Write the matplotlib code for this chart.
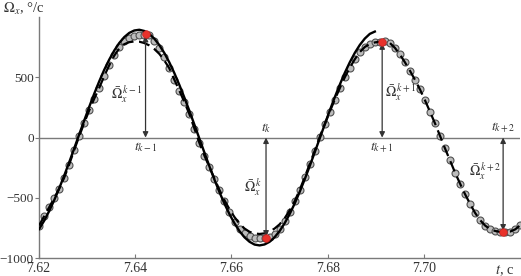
import matplotlib
matplotlib.use('Agg')
import matplotlib.pyplot as plt
import numpy as np

plt.rcParams['font.family'] = ['Liberation Serif', 'DejaVu Serif']
plt.rcParams['mathtext.fontset'] = 'stix'

# Отсчёты измерений (равномерный шаг)
t_start = 7.6201
t_step = 0.00104
omega_meas = [
    -730, -655, -580, -505, -425, -335, -225, -105, 10, 120,
    225, 322, 412, 510, 600, 685, 755, 800, 825, 842,
    850, 853, 848, 805, 740, 665, 575, 480, 390, 295,
    195, 75, -45, -150, -245, -340, -435, -525, -615, -700,
    -760, -795, -818, -830, -834, -834, -822, -798, -757, -692,
    -615, -530, -435, -330, -220, -110, 5, 110, 215, 315,
    410, 500, 580, 650, 710, 752, 778, 790, 796, 798,
    785, 745, 690, 625, 555, 480, 400, 310, 215, 118,
    15, -90, -190, -290, -382, -470, -550, -625, -685, -730,
    -760, -775, -783, -786, -780, -762, -728,
]
# Штриховая кривая
omega_dash = [
    -730, -655, -580, -505, -425, -335, -225, -105, 10, 120,
    225, 322, 412, 510, 600, 680, 740, 775, 792, 798,
    796, 785, 765, 735, 695, 640, 575, 480, 390, 295,
    195, 75, -45, -150, -245, -340, -435, -520, -595, -660,
    -715, -755, -782, -796, -800, -795, -780, -755, -720, -670,
    -605, -528, -435, -330, -220, -110, 5, 110, 215, 315,
    410, 500, 580, 650, 710, 752, 778, 790, 796, 798,
    785, 745, 690, 625, 555, 480, 400, 310, 215, 118,
    15, -90, -190, -290, -382, -470, -550, -625, -685, -730,
    -760, -775, -783, -786, -780, -762, -728,
]
# Сплошная (модельная) кривая
omega_fit = [
    -760, -692, -612, -522, -424, -318, -207, -92, 25, 140,
    254, 363, 466, 562, 647, 722, 785, 834, 869, 889,
    895, 885, 860, 821, 768, 702, 624, 535, 437, 332,
    222, 107, -9, -125, -239, -349, -453, -549, -636, -712,
    -777, -828, -865, -888, -895, -887, -865, -827, -776, -711,
    -635, -548, -451, -347, -237, -123, -7, 109, 224, 334,
    439, 537, 625, 703, 769, 822, 861, 880,
]
# Экстремумы
t_ext = [7.6422, 7.6672, 7.6913, 7.7164]
omega_ext = [858, -836, 797, -786]
labels_t = [r'$t_{k-1}$', r'$t_k$', r'$t_{k+1}$', r'$t_{k+2}$']
labels_om = [r'$\bar{\Omega}_x^{\,k-1}$', r'$\bar{\Omega}_x^{\,k}$',
             r'$\bar{\Omega}_x^{\,k+1}$', r'$\bar{\Omega}_x^{\,k+2}$']

t_meas = t_start + t_step * np.arange(len(omega_meas))
t_dash = t_start + t_step * np.arange(len(omega_dash))
t_fit = t_start + t_step * np.arange(len(omega_fit))

fig = plt.figure(figsize=(5.21, 2.76), dpi=100, facecolor='white')
ax = fig.add_axes([0.074, 0.065, 0.925, 0.873])

grey = '#7a7a7a'
txt = '#333333'
ax.axhline(0, color=grey, lw=1.0, zorder=1)

ax.plot(t_meas, omega_meas, linestyle='none', marker='o', ms=5.0,
        mfc='#bcbcbc', mec='#505050', mew=0.8, zorder=2)
ax.plot(t_dash, omega_dash, color='black', lw=1.6, dashes=(5, 2.5), zorder=3)
ax.plot(t_fit, omega_fit, color='black', lw=1.7, zorder=4)

for i, (tx, om) in enumerate(zip(t_ext, omega_ext)):
    sgn = 1 if om > 0 else -1
    ax.annotate('', xy=(tx, 0), xytext=(tx, om - sgn * 15),
                arrowprops=dict(arrowstyle='<|-|>', color=txt, lw=0.9,
                                mutation_scale=8, shrinkA=0, shrinkB=0),
                zorder=5)
    if om > 0:
        ax.text(tx, -25, labels_t[i], ha='center', va='top', fontsize=10, color=txt)
    else:
        ax.text(tx, 25, labels_t[i], ha='center', va='bottom', fontsize=10, color=txt)

ax.plot(t_ext, omega_ext, linestyle='none', marker='o', ms=5.5,
        mfc='#e8322b', mec='#c02020', mew=0.5, zorder=6)

ax.text(t_ext[0] - 0.0007, 360, labels_om[0], ha='right', va='center', fontsize=10, color=txt)
ax.text(t_ext[1] - 0.0008, -415, labels_om[1], ha='right', va='center', fontsize=10, color=txt)
ax.text(t_ext[2] + 0.0005, 375, labels_om[2], ha='left', va='center', fontsize=10, color=txt)
ax.text(t_ext[3] - 0.0004, -285, labels_om[3], ha='right', va='center', fontsize=10, color=txt)

ax.set_xlim(7.62, 7.72)
ax.set_ylim(-1000, 1000)
ax.set_xticks([7.62, 7.64, 7.66, 7.68, 7.70])
ax.set_xticklabels(['7.62', '7.64', '7.66', '7.68', '7.70'])
ax.set_yticks([-1000, -500, 0, 500])
ax.set_yticklabels(['\u22121000', '\u2212500', '0', '500'])
ax.tick_params(axis='x', direction='in', length=3, color=grey, labelsize=10, labelcolor=txt, pad=3)
ax.tick_params(axis='y', direction='out', length=3, color=grey, labelsize=9.5, labelcolor=txt, pad=0.5)

for s in ['top', 'right']:
    ax.spines[s].set_visible(False)
for s in ['left', 'bottom']:
    ax.spines[s].set_color(grey)
    ax.spines[s].set_linewidth(1.0)

fig.text(0.005, 0.995, r'$\Omega_x$, °/c', ha='left', va='top', fontsize=10.5, color=txt)
ax.text(7.7168, -1040, r'$t$, c', ha='center', va='top', fontsize=10.5, color=txt)

plt.savefig('out.png', dpi=100, facecolor='white')
plt.close()
